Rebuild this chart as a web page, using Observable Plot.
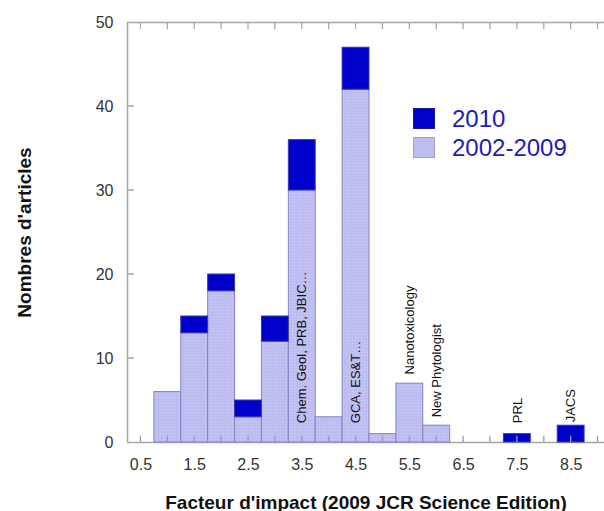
<!DOCTYPE html>
<html><head><meta charset="utf-8">
<script src="https://cdn.jsdelivr.net/npm/d3@7"></script>
<script src="https://cdn.jsdelivr.net/npm/@observablehq/plot@0.6"></script>
<style>
body{margin:0;background:#fff;}
#wrap{position:relative;width:604px;height:511px;font-family:"Liberation Sans",Arial,sans-serif;overflow:hidden;}
.legend{position:absolute;left:413px;top:104px;font-size:24px;color:#1c1cb8;line-height:1;}
.legend .item{display:flex;align-items:center;height:29px;}
.sw{width:22px;height:21px;margin-right:17px;box-sizing:border-box;}
</style></head><body><div id="wrap"></div>
<script>
// ---- data ----
const binCenters = [1.0, 1.5, 2.0, 2.5, 3.0, 3.5, 4.0, 4.5, 5.0, 5.5, 6.0, 7.5, 8.5];
const articles2002_2009 = [6, 13, 18, 3, 12, 30, 3, 42, 1, 7, 2, 0, 0];
const articles2010 = [0, 2, 2, 2, 3, 6, 0, 5, 0, 0, 0, 1, 2];
const xTickLabels = [0.5, 1.5, 2.5, 3.5, 4.5, 5.5, 6.5, 7.5, 8.5];
const yTickLabels = [0, 10, 20, 30, 40, 50];
const journalNames = ["Chem. Geol, PRB, JBIC…", "GCA, ES&T…", "Nanotoxicology", "New Phytologist", "PRL", "JACS"];
const journalCenters = [3.5, 4.5, 5.5, 6.0, 7.5, 8.5];
const journalBase = [2.3, 2.3, 8.1, 3.0, 2.3, 2.4];
const seriesNames = ["2010", "2002-2009"];
const seriesColors = ["#0000cc", "#bdbdf1"];

// ---- derived tables ----
const halfBin = 0.25;
const bars = binCenters.map((c, i) => ({c, prior: articles2002_2009[i], y10: articles2010[i]}));
const journals = journalNames.map((name, i) => ({name, x: journalCenters[i], y: journalBase[i]}));
const xDomain = [0.25, 9.12];
const minorX = d3.range(0.5, 9.01, 0.5);
const yMinor = yTickLabels.slice(1, -1);
const grey = "#a8a8a8";
const tickW = 0.012; // half-width of a tick in x units

const chart = Plot.plot({
  width: 604, height: 511,
  marginLeft: 127, marginRight: 0, marginTop: 22, marginBottom: 69,
  style: {fontFamily: "'Liberation Sans', Arial, sans-serif", fontSize: "16px", color: "#333", background: "white"},
  x: {domain: xDomain},
  y: {domain: [0, 50]},
  marks: [
    Plot.ruleY([0, 50], {stroke: grey, strokeWidth: 1.5}),
    Plot.ruleX([xDomain[0]], {stroke: grey, strokeWidth: 1.5}),
    Plot.rectY(bars.filter(d => d.prior > 0), {x1: d => d.c - halfBin, x2: d => d.c + halfBin, y1: 0, y2: d => d.prior, fill: "url(#dots)", stroke: "#8282c6", strokeWidth: 1}),
    Plot.rectY(bars.filter(d => d.y10 > 0), {x1: d => d.c - halfBin, x2: d => d.c + halfBin, y1: d => d.prior, y2: d => d.prior + d.y10, fill: seriesColors[0], stroke: "#3a3aa8", strokeWidth: 1}),
    // inner ticks as thin rects
    Plot.rect(minorX, {x1: d => d - tickW, x2: d => d + tickW, y1: 0, y2: 0.75, fill: "#9a9ab6"}),
    Plot.rect(minorX, {x1: d => d - tickW, x2: d => d + tickW, y1: 50, y2: 49.15, fill: grey}),
    Plot.rect(yMinor, {y1: d => d - 0.09, y2: d => d + 0.09, x1: xDomain[0], x2: xDomain[0] + 0.13, fill: grey}),
    Plot.axisX({ticks: xTickLabels, tickSize: 0, tickPadding: 16, tickFormat: d => d.toFixed(1), fontSize: 16, fill: "#333",
      label: "Facteur d'impact (2009 JCR Science Edition)", labelAnchor: "center", labelArrow: "none", labelOffset: 66}),
    Plot.axisY({ticks: yTickLabels, tickSize: 0, tickPadding: 14, fontSize: 16, fill: "#333",
      label: "Nombres d'articles", labelAnchor: "center", labelArrow: "none", labelOffset: 110}),
    Plot.text(journals, {x: "x", y: "y", text: "name", rotate: -90, textAnchor: "start", fontSize: 13, fill: "#111", ariaLabel: "journal"})
  ]
});

// pattern for the light bars
const ns = "http://www.w3.org/2000/svg";
const defs = document.createElementNS(ns, "defs");
defs.innerHTML = `<pattern id="dots" width="3" height="3" patternUnits="userSpaceOnUse"><rect width="3" height="3" fill="${seriesColors[1]}"/><rect x="1" y="1" width="1" height="1" fill="#cfcff6"/></pattern>`;
chart.insertBefore(defs, chart.firstChild);

const wrap = document.getElementById("wrap");
wrap.appendChild(chart);

// bold axis titles
chart.querySelectorAll('g[aria-label="x-axis label"] text, g[aria-label="y-axis label"] text').forEach(t => {
  t.setAttribute("font-weight", "bold"); t.setAttribute("font-size", "19px"); t.setAttribute("fill", "#111");
});

// white boxes behind journal labels
chart.querySelectorAll('g[aria-label="journal"] text').forEach(t => {
  const b = t.getBBox();
  const r = document.createElementNS(ns, "rect");
  r.setAttribute("x", b.x - 2); r.setAttribute("y", b.y);
  r.setAttribute("width", b.width + 4); r.setAttribute("height", b.height);
  r.setAttribute("fill", "white");
  if (t.getAttribute("transform")) r.setAttribute("transform", t.getAttribute("transform"));
  t.parentNode.insertBefore(r, t);
});

// legend
const legend = document.createElement("div");
legend.className = "legend";
seriesNames.forEach((name, i) => {
  const item = document.createElement("div"); item.className = "item";
  const sw = document.createElement("div"); sw.className = "sw";
  sw.style.background = seriesColors[i];
  sw.style.border = i === 0 ? "1px solid #1a1aa0" : "1px solid #a0a0cc";
  const lab = document.createElement("span"); lab.textContent = name;
  item.appendChild(sw); item.appendChild(lab); legend.appendChild(item);
});
wrap.appendChild(legend);
</script></body></html>
